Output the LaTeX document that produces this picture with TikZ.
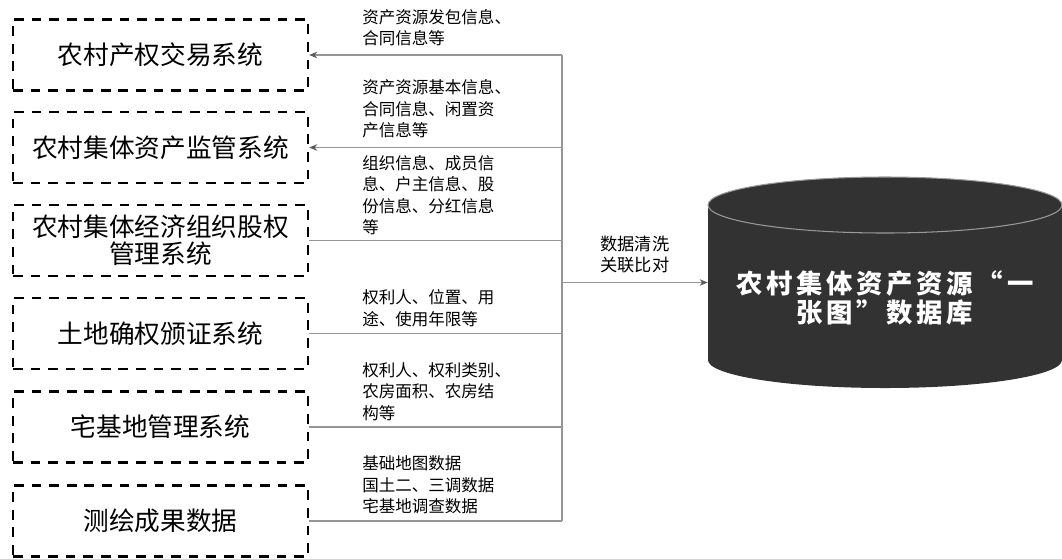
\documentclass[tikz,border=0pt]{standalone}
\usepackage{fontspec}
\setmainfont{Noto Sans CJK SC}
\usetikzlibrary{shapes.geometric, arrows.meta, positioning}
\definecolor{linkgray}{RGB}{150,150,150}
\definecolor{tipgray}{RGB}{90,90,90}
\definecolor{dbfill}{RGB}{50,50,50}

\begin{document}
\begin{tikzpicture}[
    sysbox/.style={draw, line width=1.4pt, dash pattern=on 5.5pt off 4.5pt, minimum width=5.9cm, minimum height=1.42cm, align=center, inner sep=0pt, font=\fontsize{14.6}{15.6}\selectfont},
    infotext/.style={align=left, anchor=west, inner sep=0pt, font=\fontsize{9.4}{12.2}\selectfont},
    link/.style={draw=linkgray, line width=0.6pt},
    tip/.style={-{Stealth[length=1.6mm, width=1.3mm, color=tipgray]}}
]
    \useasboundingbox (0,0) rectangle (21.24,-11.16);

    % === Systèmes sources (gauche) ===
    \node[sysbox] (trade) at (3.21,-1.10) {农村产权交易系统};
    \node[sysbox] (assets) at (3.21,-2.95) {农村集体资产监管系统};
    \node[sysbox] (equity) at (3.21,-4.81) {农村集体经济组织股权\\管理系统};
    \node[sysbox] (land) at (3.21,-6.67) {土地确权颁证系统};
    \node[sysbox] (homestead) at (3.21,-8.54) {宅基地管理系统};
    \node[sysbox] (survey) at (3.21,-10.42) {测绘成果数据};

    % Contenus échangés
    \node[infotext] (infotrade) at (7.24,-0.55) {资产资源发包信息、\\合同信息等};
    \node[infotext] (infoassets) at (7.24,-2.18) {资产资源基本信息、\\合同信息、闲置资\\产信息等};
    \node[infotext] (infoequity) at (7.24,-3.90) {组织信息、成员信\\息、户主信息、股\\份信息、分红信息\\等};
    \node[infotext] (infoland) at (7.24,-6.16) {权利人、位置、用\\途、使用年限等};
    \node[infotext] (infohome) at (7.24,-7.83) {权利人、权利类别、\\农房面积、农房结\\构等};
    \node[infotext] (infosurvey) at (7.24,-9.70) {基础地图数据\\国土二、三调数据\\宅基地调查数据};

    % Base de données (cylindre)
    \fill[dbfill] (14.16,-4.10) -- (14.16,-7.20) arc[start angle=180, end angle=360, x radius=3.54, y radius=0.56]
        -- (21.24,-4.10) arc[start angle=0, end angle=180, x radius=3.54, y radius=0.56] -- cycle;
    \draw[gray!80, line width=0.6pt] (17.70,-4.10) ellipse[x radius=3.54, y radius=0.56];
    \node[inner sep=0pt, minimum width=7.08cm, minimum height=4.22cm] (db) at (17.70,-5.65) {};
    \node[white, align=center, font=\bfseries\fontsize{15}{16.5}\selectfont\addfontfeature{LetterSpace=14}] (dbname) at ([yshift=-0.3cm]db.center) {农村集体资产资源“一\\张图”数据库};

    % Liaisons
    \coordinate (bus) at (11.24,0);
    \draw[link] (trade.east -| bus) -- (survey.east -| bus);
    \draw[link, tip] (trade.east -| bus) -- (trade.east);
    \draw[link, tip] (assets.east -| bus) -- (assets.east);
    \foreach \src in {equity, land, homestead, survey}
        \draw[link] (\src.east -| bus) -- (\src.east);
    \draw[link, tip] (bus |- db.center) -- (db.west)
        node[midway, above=2pt, align=center, font=\fontsize{9.8}{11.5}\selectfont, black] (cleanse) {数据清洗\\关联比对};
\end{tikzpicture}
\end{document}
